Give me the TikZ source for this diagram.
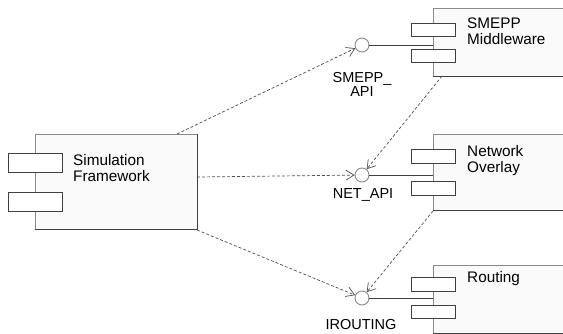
\documentclass[tikz,border=0pt]{standalone}
\usepackage{fontspec}
\setmainfont{Liberation Sans}
\usetikzlibrary{arrows.meta}
\definecolor{boxfill}{HTML}{FAFAFA}
\definecolor{lite}{HTML}{8A8A8A}
\definecolor{dark}{HTML}{404040}
\definecolor{dashc}{HTML}{505050}
\tikzset{
  comp/.style={draw=lite, fill=boxfill, line width=0.9pt, rectangle, anchor=north west, inner sep=0pt},
  port/.style={draw=dark, fill=white, line width=0.9pt, rectangle, anchor=north west, inner sep=0pt},
  iface/.style={draw=lite, fill=white, line width=0.9pt, circle, minimum size=14pt, inner sep=0pt},
  lbl/.style={font=\fontsize{14.5}{14}\selectfont, inner sep=0pt, text=black},
  blbl/.style={font=\fontsize{15.3}{16.5}\selectfont, inner sep=0pt, text=black, align=left, anchor=base west},
  dep/.style={draw=dashc, line width=0.7pt, dash pattern=on 3pt off 2pt, -{Straight Barb[length=8pt,width=10pt,line width=0.7pt]}},
  link/.style={draw=dark, line width=0.9pt},
}
\begin{document}
\begin{tikzpicture}[x=1pt,y=-1pt]
\clip (0,0) rectangle (563,334);
\fill[white] (0,0) rectangle (563,334);
% Simulation Framework
\node[comp, minimum width=162pt, minimum height=95pt] (sim) at (35,134) {};
\draw[dark, line width=0.9pt] (sim.north east) -- (sim.south east) -- (sim.south west);
\node[port, minimum width=54pt, minimum height=19pt] (simp1) at (8,153) {};
\node[port, minimum width=54pt, minimum height=19pt] (simp2) at (8,192) {};
\node[blbl] (simt) at (73,182) {Simulation\\Framework};
% SMEPP Middleware
\node[comp, minimum width=140pt, minimum height=68pt] (smepp) at (433,8) {};
\draw[dark, line width=0.9pt] (smepp.south east) -- (smepp.south west);
\node[port, minimum width=44pt, minimum height=13pt] (smp1) at (411,23) {};
\node[port, minimum width=44pt, minimum height=13pt] (smp2) at (411,49) {};
\node[blbl] (smt) at (467,45) {SMEPP\\Middleware};
% Network Overlay
\node[comp, minimum width=140pt, minimum height=76pt] (net) at (433,134) {};
\draw[dark, line width=0.9pt] (net.south east) -- (net.south west);
\node[port, minimum width=44pt, minimum height=14pt] (netp1) at (411,149) {};
\node[port, minimum width=44pt, minimum height=14pt] (netp2) at (411,181) {};
\node[blbl] (nett) at (467,173) {Network\\Overlay};
% Routing
\node[comp, minimum width=140pt, minimum height=68pt] (rout) at (433,265) {};
\draw[dark, line width=0.9pt] (rout.south east) -- (rout.south west);
\node[port, minimum width=44pt, minimum height=14pt] (rp1) at (411,277) {};
\node[port, minimum width=44pt, minimum height=13pt] (rp2) at (411,305) {};
\node[blbl] (rt) at (467,283) {Routing};
% interfaces
\node[iface] (api1) at (362,45) {};
\node[iface] (api2) at (362,175) {};
\node[iface] (api3) at (362,298) {};
\coordinate (smin) at (433,45);
\coordinate (netin) at (433,175);
\coordinate (rin) at (433,298);
\draw[link] (api1) -- (smin);
\draw[link] (api2) -- (netin);
\draw[link] (api3) -- (rin);
\node[lbl, anchor=base, align=center] (l1) at (362,97) {SMEPP\_\\API};
\node[lbl, anchor=base] (l2) at (363,199) {NET\_API};
\node[lbl, anchor=base] (l3) at (361,329) {IROUTING};
% dependencies
\coordinate (s1) at (177,134);
\coordinate (s2) at (197,177);
\coordinate (s3) at (197,230);
\coordinate (m1) at (442,76);
\coordinate (n1) at (433,211);
\draw[dep] (s1) -- (api1);
\draw[dep] (s2) -- (api2);
\draw[dep] (s3) -- (api3);
\draw[dep] (m1) -- (api2);
\draw[dep] (n1) -- (api3);
\end{tikzpicture}
\end{document}
